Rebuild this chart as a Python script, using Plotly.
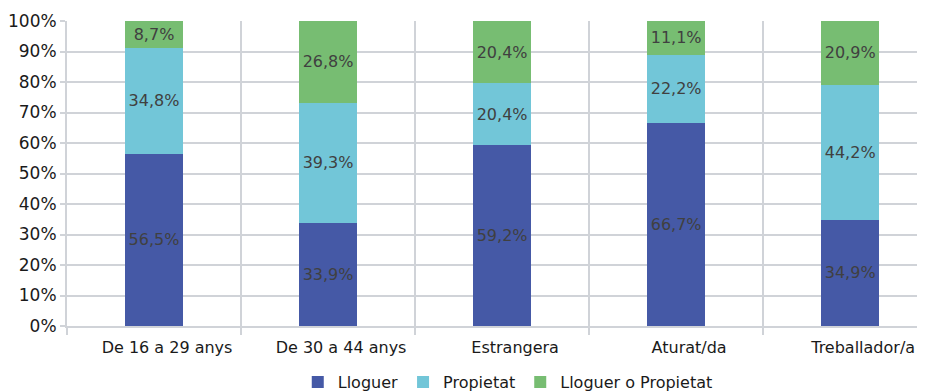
import plotly.graph_objects as go

categories = ["De 16 a 29 anys", "De 30 a 44 anys", "Estrangera", "Aturat/da", "Treballador/a"]
lloguer = [56.5, 33.9, 59.2, 66.7, 34.9]
propietat = [34.8, 39.3, 20.4, 22.2, 44.2]
lloguer_o_propietat = [8.7, 26.8, 20.4, 11.1, 20.9]
y_ticks = [0, 10, 20, 30, 40, 50, 60, 70, 80, 90, 100]

series = [
    ("Lloguer", lloguer, "#4559A6"),
    ("Propietat", propietat, "#72C6D8"),
    ("Lloguer o Propietat", lloguer_o_propietat, "#77BD72"),
]

def fmt(v):
    return f"{v:.1f}".replace(".", ",") + "%"

FONT = "DejaVu Sans"
fig = go.Figure()
for name, vals, color in series:
    fig.add_trace(go.Bar(
        x=categories, y=vals, name=name,
        marker=dict(color=color, line=dict(width=0)),
        text=[fmt(v) for v in vals],
        textposition="inside", insidetextanchor="middle",
        constraintext="none",
        textfont=dict(color="#404040", size=16, family=FONT),
        width=0.333,
    ))

grid = "#D0D3D8"
fig.update_layout(
    barmode="stack",
    width=917, height=383,
    margin=dict(l=59, r=0, t=13, b=65, autoexpand=False),
    paper_bgcolor="white", plot_bgcolor="white",
    font=dict(family=FONT, size=16, color="#1a1a1a"),
    showlegend=True,
    legend=dict(orientation="h", traceorder="normal",
                x=0.545, xanchor="center", xref="container",
                y=-0.184, yanchor="middle", yref="paper",
                font=dict(size=16), tracegroupgap=0),
    xaxis=dict(type="category", range=[-0.5, 4.43], tickson="boundaries",
               showgrid=True, gridcolor=grid, gridwidth=2,
               ticks="outside", ticklen=7, tickcolor=grid, tickwidth=2,
               showline=True, linecolor=grid, linewidth=2,
               ticklabelstandoff=6, ticklabelshift=13,
               tickfont=dict(size=16)),
    yaxis=dict(range=[0, 100], tickvals=y_ticks, ticktext=[f"{t}%" for t in y_ticks],
               showgrid=True, gridcolor=grid, gridwidth=2,
               ticks="outside", ticklen=5, tickcolor=grid, tickwidth=2,
               showline=True, linecolor=grid, linewidth=2, zeroline=False,
               tickfont=dict(size=17)),
)
fig.write_html("out.html")
